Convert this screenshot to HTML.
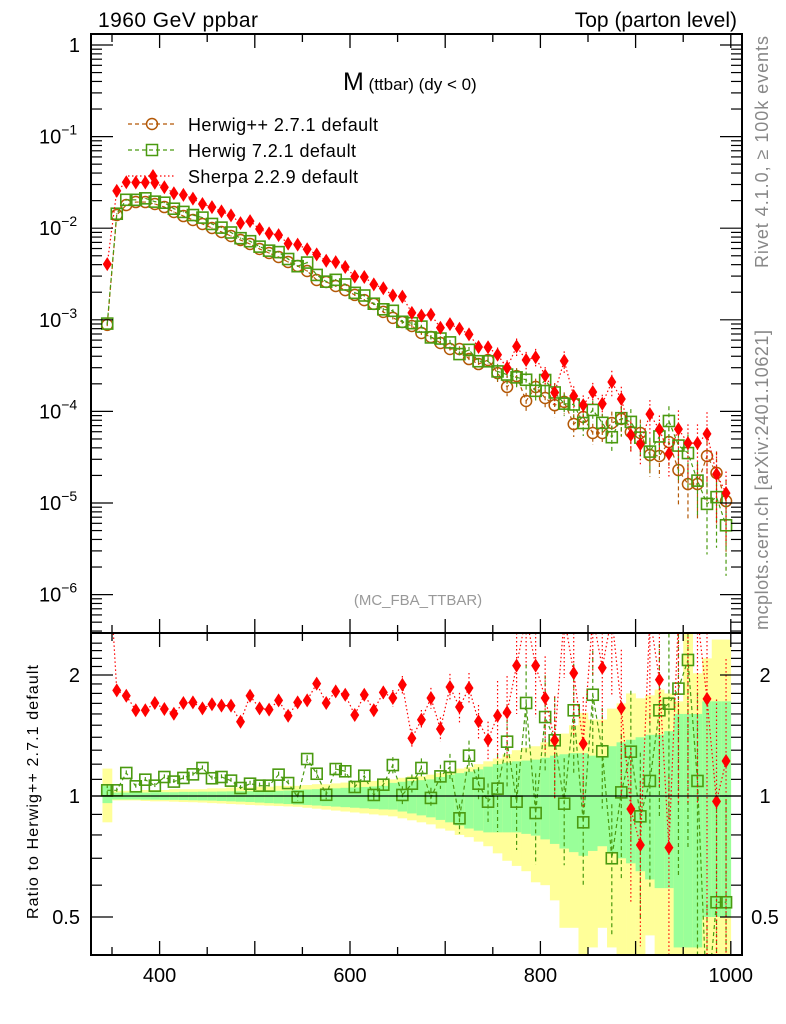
<!DOCTYPE html>
<html><head><meta charset="utf-8">
<style>
html,body{margin:0;padding:0;background:#fff;}
svg{display:block;font-family:"Liberation Sans",sans-serif;}
</style></head>
<body>
<svg id="chart" width="786" height="1024" viewBox="0 0 786 1024" xmlns="http://www.w3.org/2000/svg">
  <rect x="0" y="0" width="786" height="1024" fill="#fff"/>
  <g id="ratio-bands"></g>
  <g id="main-series"></g>
  <g id="ratio-series"></g>
  <g id="axes"></g>
  <text x="98" y="27" font-size="21" textLength="160">1960 GeV ppbar</text>
  <text x="737" y="27" font-size="21" text-anchor="end">Top (parton level)</text>
  <text x="343" y="90"><tspan font-size="25">M</tspan><tspan font-size="17"> (ttbar) (dy &lt; 0)</tspan></text>
  <text x="418" y="605" text-anchor="middle" font-size="15" fill="#999">(MC_FBA_TTBAR)</text>
  <text transform="translate(768,268) rotate(-90)" font-size="18" fill="#888" textLength="232">Rivet 4.1.0, ≥ 100k events</text>
  <text transform="translate(768,630) rotate(-90)" font-size="18" fill="#888" textLength="300">mcplots.cern.ch [arXiv:2401.10621]</text>
  <text transform="translate(38,919) rotate(-90)" font-size="16" textLength="254">Ratio to Herwig++ 2.7.1 default</text>
  <g>
    <g>
      <line x1="128" y1="124" x2="176" y2="124" stroke="#b35806" stroke-width="1.2" stroke-dasharray="4,3"/>
      <circle cx="152" cy="124" r="5.5" fill="none" stroke="#b35806" stroke-width="1.5"/>
      <text x="188" y="131" font-size="18" textLength="190">Herwig++ 2.7.1 default</text>
    </g>
    <g>
      <line x1="128" y1="150" x2="176" y2="150" stroke="#4a9a10" stroke-width="1.2" stroke-dasharray="4,3"/>
      <rect x="146.5" y="144.5" width="11" height="11" fill="none" stroke="#4a9a10" stroke-width="1.5"/>
      <text x="188" y="157" font-size="18" textLength="168">Herwig 7.2.1 default</text>
    </g>
    <g>
      <line x1="128" y1="176" x2="176" y2="176" stroke="#f00" stroke-width="1.2" stroke-dasharray="1.5,2.5"/>
      <polygon points="153,169 157.5,176 153,183 148.5,176" fill="#f00"/>
      <text x="188" y="183" font-size="18" textLength="170">Sherpa 2.2.9 default</text>
    </g>
  </g>
</svg>
<script>
// ---- data ----
const binCenters = [345,355,365,375,385,395,405,415,425,435,445,455,465,475,485,495,505,515,525,535,545,555,565,575,585,595,605,615,625,635,645,655,665,675,685,695,705,715,725,735,745,755,765,775,785,795,805,815,825,835,845,855,865,875,885,895,905,915,925,935,945,955,965,975,985,995];
const herwigppValues = [8.8e-4,0.01393,0.0179,0.0193,0.0193,0.01837,0.01703,0.01503,0.01358,0.0123,0.01112,0.01005,0.0091,0.00822,0.00743,0.00672,0.00593,0.00536,0.00485,0.00428,0.00387,0.00341,0.00272,0.00259,0.00234,0.00211,0.00187,0.00164,0.00149,0.00122,0.00105,9.46e-4,8.56e-4,7.18e-4,6.49e-4,5.58e-4,4.8e-4,4.8e-4,3.73e-4,3.29e-4,3.64e-4,2.62e-4,1.85e-4,2.43e-4,1.3e-4,1.85e-4,1.4e-4,1.17e-4,1.27e-4,7.28e-5,8.69e-5,5.81e-5,5.81e-5,7.47e-5,8.26e-5,5.96e-5,5.81e-5,3.34e-5,3.26e-5,4.63e-5,2.29e-5,1.61e-5,1.61e-5,3.26e-5,2.13e-5,1.05e-5];
const herwig7Ratio = [1.033,1.033,1.141,1.057,1.098,1.061,1.115,1.086,1.109,1.132,1.174,1.107,1.115,1.092,1.047,1.073,1.061,1.061,1.13,1.077,0.994,1.236,1.136,1.007,1.167,1.152,1.053,1.123,1.006,1.067,1.194,1.006,1.073,1.174,0.989,1.119,1.181,0.88,1.26,1.073,0.968,1.043,1.365,0.968,1.704,0.907,1.572,1.376,0.957,1.634,0.86,1.786,1.292,0.7,1.021,1.289,0.89,1.09,1.634,1.697,1.85,2.18,1.09,0.3,0.544,0.544];
const sherpaRatio = [4.6,1.832,1.776,1.634,1.634,1.704,1.646,1.602,1.704,1.71,1.652,1.691,1.678,1.678,1.53,1.776,1.652,1.64,1.73,1.584,1.71,1.73,1.903,1.704,1.821,1.786,1.59,1.786,1.634,1.81,1.753,1.892,1.392,1.548,1.753,1.468,1.867,1.665,1.856,1.533,1.38,1.584,1.614,2.11,2.8,2.11,1.753,1.376,2.8,2.022,1.349,2.8,2.085,2.8,1.656,0.928,0.755,2.8,1.947,0.744,2.8,2.8,2.8,1.744,0.97,1.222];
const yellowUp = [1.17,1.03,1.03,1.03,1.035,1.035,1.035,1.04,1.04,1.04,1.04,1.045,1.045,1.05,1.05,1.05,1.055,1.055,1.06,1.06,1.06,1.065,1.07,1.07,1.075,1.08,1.085,1.09,1.09,1.095,1.1,1.11,1.12,1.12,1.13,1.14,1.15,1.17,1.18,1.2,1.22,1.24,1.27,1.3,1.32,1.33,1.36,1.4,1.43,1.5,1.61,1.55,1.55,1.65,1.7,1.8,1.75,1.78,1.84,1.8,1.72,2.54,2.02,2.2,2.45,2.45];
const yellowDn = [0.86,0.975,0.975,0.975,0.972,0.97,0.97,0.968,0.966,0.965,0.963,0.96,0.958,0.955,0.953,0.95,0.948,0.946,0.944,0.942,0.94,0.935,0.93,0.925,0.92,0.915,0.91,0.905,0.9,0.895,0.89,0.88,0.87,0.86,0.85,0.83,0.82,0.8,0.79,0.77,0.75,0.72,0.69,0.67,0.65,0.61,0.6,0.55,0.47,0.47,0.38,0.42,0.47,0.42,0.38,0.38,0.38,0.45,0.38,0.38,0.38,0.38,0.38,0.38,0.38,0.38];
const greenUp = [1.06,1.02,1.02,1.02,1.02,1.022,1.022,1.022,1.024,1.024,1.025,1.025,1.026,1.027,1.028,1.028,1.03,1.03,1.03,1.032,1.036,1.038,1.04,1.042,1.045,1.048,1.05,1.053,1.056,1.06,1.078,1.085,1.09,1.095,1.1,1.115,1.13,1.14,1.15,1.165,1.183,1.2,1.21,1.22,1.225,1.232,1.245,1.26,1.27,1.278,1.278,1.26,1.255,1.33,1.36,1.38,1.4,1.42,1.42,1.45,1.6,1.6,1.6,1.72,1.72,1.72];
const greenDn = [0.96,0.98,0.98,0.98,0.979,0.979,0.978,0.978,0.977,0.976,0.975,0.974,0.972,0.97,0.968,0.966,0.963,0.96,0.958,0.955,0.952,0.95,0.947,0.944,0.941,0.938,0.935,0.932,0.929,0.926,0.925,0.915,0.905,0.895,0.885,0.872,0.86,0.845,0.83,0.82,0.812,0.812,0.812,0.812,0.805,0.797,0.78,0.76,0.74,0.725,0.71,0.73,0.75,0.72,0.7,0.68,0.65,0.62,0.59,0.59,0.42,0.42,0.42,0.5,0.5,0.5];
const xTicksMajor = [400,600,800,1000];
const ratioTicks = [2,1,0.5];

// ---- axes functions ----
const NS = 'http://www.w3.org/2000/svg';
const L = 91, R = 742, MT = 34, MB = 633, RB = 955;
function xs(v){ return 159.6 + (v - 400) * 0.952; }
function ys(v){ return 45 - 91.6 * Math.log10(v); }
function yr(r){ return 796 - 121 * Math.log2(r); }
function mk(tag, attrs, parent){
  const e = document.createElementNS(NS, tag);
  for (const k in attrs) e.setAttribute(k, attrs[k]);
  parent.appendChild(e);
  return e;
}
const clampR = v => Math.max(633, Math.min(955, v));
const clampM = v => Math.max(34, Math.min(633, v));

const bandG = document.getElementById('ratio-bands');
binCenters.forEach((c, i) => {
  const x0 = xs(c - 5), x1 = xs(c + 5);
  const yb = mk('rect', {x:x0, y:clampR(yr(yellowUp[i])), width:x1-x0+0.3, height:clampR(yr(yellowDn[i]))-clampR(yr(yellowUp[i])), fill:'#ffff99'}, bandG);
  
  
  const gb = mk('rect', {x:x0, y:clampR(yr(greenUp[i])), width:x1-x0+0.3, height:clampR(yr(greenDn[i]))-clampR(yr(greenUp[i])), fill:'#99ff99'}, bandG);
  
  
});

const series = [
  {name:'herwigpp', color:'#b35806', dash:'4,3', marker:'circle', ratio:binCenters.map(()=>1)},
  {name:'herwig7', color:'#4a9a10', dash:'4,3', marker:'square', ratio:herwig7Ratio},
  {name:'sherpa', color:'#ff0000', dash:'1.5,2.5', marker:'diamond', ratio:sherpaRatio}
];
function drawMarker(type, x, y, color, parent){
  let m;
  if (type === 'circle') m = mk('circle', {cx:x, cy:y, r:5.5, fill:'none', stroke:color, 'stroke-width':1.5}, parent);
  else if (type === 'square') m = mk('rect', {x:x-5.5, y:y-5.5, width:11, height:11, fill:'none', stroke:color, 'stroke-width':1.6}, parent);
  else m = mk('polygon', {points:`${x},${y-7} ${x+4.5},${y} ${x},${y+7} ${x-4.5},${y}`, fill:color}, parent);
  return m;
}
const mainG = document.getElementById('main-series');
const ratioG = document.getElementById('ratio-series');
series.forEach(s => {
  const vals = herwigppValues.map((v, i) => v * s.ratio[i]);
  const pts = vals.map((v, i) => `${xs(binCenters[i])},${ys(v)}`).join(' ');
  const ln = mk('polyline', {points:pts, fill:'none', stroke:s.color, 'stroke-width':1.2, 'stroke-dasharray':s.dash}, mainG);
  
  
  vals.forEach((v, i) => {
    const x = xs(binCenters[i]), y = ys(v);
    const err = Math.max(0.01, (greenUp[i] - 1) * (i > 40 ? 1.0 : 0.5));
    const eb = mk('line', {x1:x, x2:x, y1:clampM(ys(v*(1+err))), y2:clampM(ys(Math.max(v*(1-err), 1e-9))), stroke:s.color, 'stroke-width':1.2, 'stroke-dasharray':s.dash}, mainG);
    
    
    const m = drawMarker(s.marker, x, y, s.color, mainG);
    
    
  });
  if (s.name === 'herwigpp') return;
  const rp = s.ratio.map((r, i) => `${xs(binCenters[i])},${yr(r)}`).join(' ');
  const rl = mk('polyline', {points:rp, fill:'none', stroke:s.color, 'stroke-width':1.2, 'stroke-dasharray':s.dash, 'clip-path':'url(#ratioClip)'}, ratioG);
  
  
  s.ratio.forEach((r, i) => {
    const x = xs(binCenters[i]);
    const err = Math.max(0.015, (greenUp[i] - 1) * (i > 40 ? 1.1 : 0.6));
    const eb = mk('line', {x1:x, x2:x, y1:clampR(yr(r*(1+err))), y2:clampR(yr(Math.max(r*(1-err),0.01))), stroke:s.color, 'stroke-width':1.2, 'stroke-dasharray':s.dash}, ratioG);
    
    
    const y = yr(r);
    if (y < 633 || y > 955) return;
    const m = drawMarker(s.marker, x, y, s.color, ratioG);
    
    
  });
});
const defs = mk('defs', {}, document.getElementById('chart'));
const cp = mk('clipPath', {id:'ratioClip'}, defs);
mk('rect', {x:L, y:633, width:R-L, height:322}, cp);
const cpm = mk('clipPath', {id:'mainClip'}, defs);
mk('rect', {x:L, y:MT, width:R-L, height:MB-MT}, cpm);
mainG.setAttribute('clip-path', 'url(#mainClip)');

const ax = document.getElementById('axes');
const oneLine = mk('line', {x1:L, x2:R, y1:yr(1), y2:yr(1), stroke:'#000', 'stroke-width':1.3}, ax);


const f1 = mk('rect', {x:L, y:MT, width:R-L, height:MB-MT, fill:'none', stroke:'#000', 'stroke-width':2}, ax);


const f2 = mk('rect', {x:L, y:MB, width:R-L, height:RB-MB, fill:'none', stroke:'#000', 'stroke-width':2}, ax);


for (let v = 350; v <= 1000; v += 50) {
  const major = v % 100 === 0;
  const len = major ? 14 : 8;
  [[MT, 1], [MB, -1], [MB, 1], [RB, -1]].forEach(([y0, d]) => {
    mk('line', {x1:xs(v), x2:xs(v), y1:y0, y2:y0 + d*len, stroke:'#000', 'stroke-width':1.3}, ax);
  });
}
xTicksMajor.forEach(v => {
  const t = mk('text', {x:xs(v), y:982, 'font-size':20, 'text-anchor':'middle'}, ax);
  t.textContent = v;
  
  
});
for (let e = 0; e >= -7; e--) {
  for (let m = 1; m < 10; m++) {
    const y = ys(m * Math.pow(10, e));
    if (y < MT || y > MB) continue;
    const len = m === 1 ? 22 : 11;
    mk('line', {x1:L, x2:L+len, y1:y, y2:y, stroke:'#000', 'stroke-width':1.2}, ax);
    mk('line', {x1:R, x2:R-len, y1:y, y2:y, stroke:'#000', 'stroke-width':1.2}, ax);
  }
  if (e >= -6) {
    const t = mk('text', {x:80, y:ys(Math.pow(10, e)) + 7, 'font-size':20, 'text-anchor':'end'}, ax);
    
    
    if (e === 0) t.textContent = '1';
    else { t.textContent = '10'; const s = mk('tspan', {dy:-9, 'font-size':14}, t); s.textContent = '−' + (-e); t.setAttribute('text-anchor', 'start'); t.setAttribute('x', 39); }
  }
}
for (let r = 0.4; r <= 2.5; r += 0.1) {
  const y = yr(r);
  if (y < 633 || y > 955) continue;
  const major = [0.5, 1, 2].some(v => Math.abs(v - r) < 1e-6);
  const len = major ? 22 : 11;
  mk('line', {x1:L, x2:L+len, y1:y, y2:y, stroke:'#000', 'stroke-width':1.2}, ax);
  mk('line', {x1:R, x2:R-len, y1:y, y2:y, stroke:'#000', 'stroke-width':1.2}, ax);
}
ratioTicks.forEach(r => {
  const t1 = mk('text', {x:80, y:yr(r) + 7, 'font-size':20, 'text-anchor':'end'}, ax);
  t1.textContent = r;
  
  
  const t2 = mk('text', {x:765, y:yr(r) + 7, 'font-size':20, 'text-anchor':'middle'}, ax);
  t2.textContent = r;
  
  
});
</script>
</body></html>
